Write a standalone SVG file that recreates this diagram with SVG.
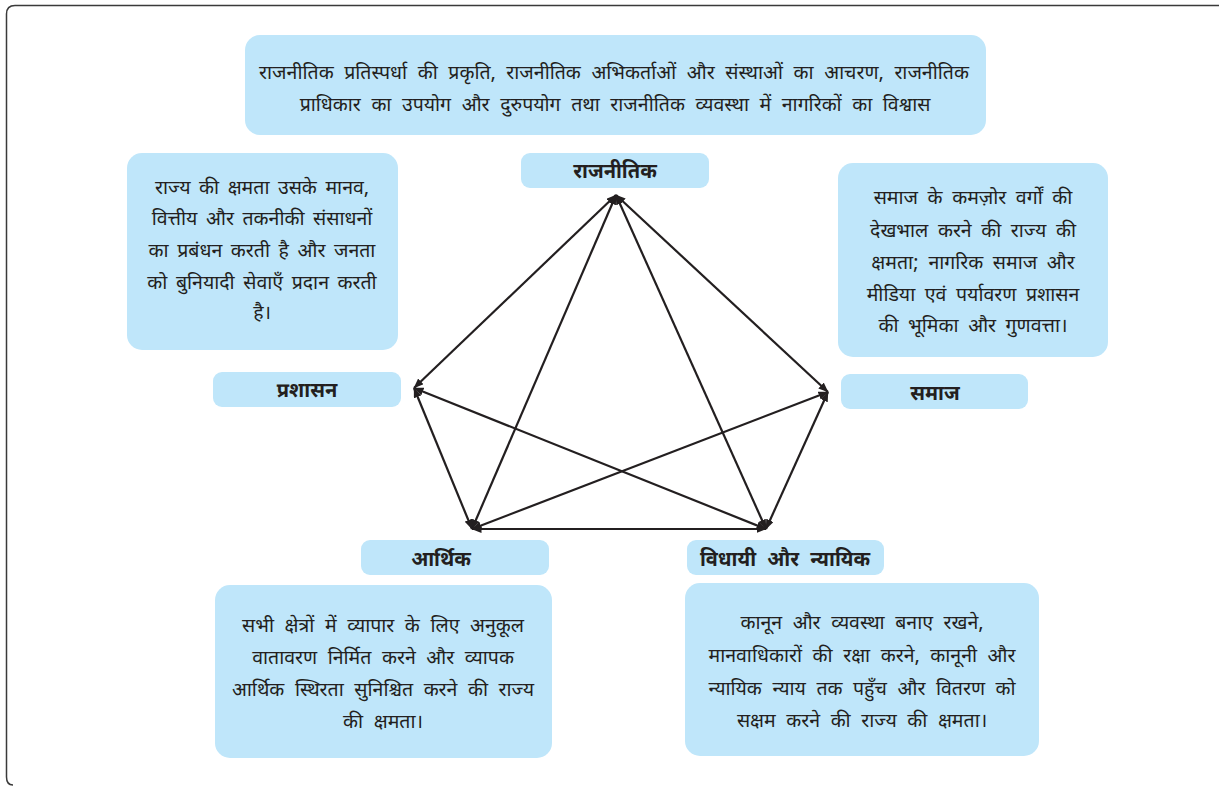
<svg xmlns="http://www.w3.org/2000/svg" width="1219" height="787" viewBox="0 0 1219 787">
<defs>
<style>
.box{fill:#bfe6fa;}
.t{font-family:"Noto Sans Devanagari","Lohit Devanagari","Noto Sans","Liberation Sans",sans-serif;font-size:19.5px;fill:#231f20;text-anchor:middle;word-spacing:5.5px;}
.tl{word-spacing:3.5px;}
.tr{word-spacing:4.5px;}
.lb{font-family:"Noto Sans Devanagari","Lohit Devanagari","Noto Sans","Liberation Sans",sans-serif;font-size:20px;font-weight:bold;fill:#231f20;text-anchor:middle;word-spacing:6px;}
.edge{stroke:#231f20;stroke-width:2.2;fill:none;marker-start:url(#ah);marker-end:url(#ah);}
</style>
<marker id="ah" viewBox="0 0 10 8" refX="9.5" refY="4" markerWidth="10" markerHeight="8" orient="auto-start-reverse" markerUnits="userSpaceOnUse">
<path d="M0,0 L10,4 L0,8 z" fill="#231f20"/>
</marker>
</defs>
<rect width="1219" height="787" fill="#ffffff"/>
<path id="frame" d="M1219,5.5 H15 Q6.5,5.5 6.5,14 V777 Q6.5,785 13,785" fill="none" stroke="#3a3a3a" stroke-width="1.5"/>

<g id="connectors">
<line class="edge" x1="616" y1="195" x2="414" y2="388"/>
<line class="edge" x1="616" y1="195" x2="828" y2="392"/>
<line class="edge" x1="616" y1="195" x2="472" y2="529"/>
<line class="edge" x1="616" y1="195" x2="766" y2="529"/>
<line class="edge" x1="414" y1="388" x2="472" y2="529"/>
<line class="edge" x1="414" y1="388" x2="766" y2="529"/>
<line class="edge" x1="828" y1="392" x2="766" y2="529"/>
<line class="edge" x1="828" y1="392" x2="472" y2="529"/>
<line class="edge" x1="472" y1="529" x2="766" y2="529"/>
</g>

<g id="top-desc">
<rect class="box" x="245" y="35" width="741" height="100" rx="15"/>
<text class="t" x="614" y="79">राजनीतिक प्रतिस्पर्धा की प्रकृति, राजनीतिक अभिकर्ताओं और संस्थाओं का आचरण, राजनीतिक</text>
<text class="t" x="615" y="111">प्राधिकार का उपयोग और दुरुपयोग तथा राजनीतिक व्यवस्था में नागरिकों का विश्वास</text>
</g>

<g id="node-rajnitik">
<rect class="box" x="521" y="153" width="188" height="35" rx="9"/>
<text class="lb" x="615" y="178">राजनीतिक</text>
</g>

<g id="left-desc">
<rect class="box" x="127" y="153" width="271" height="197" rx="15"/>
<text class="t tl" x="262" y="194">राज्य की क्षमता उसके मानव,</text>
<text class="t tl" x="262" y="225">वित्तीय और तकनीकी संसाधनों</text>
<text class="t tl" x="262" y="257">का प्रबंधन करती है और जनता</text>
<text class="t tl" x="262" y="289">को बुनियादी सेवाएँ प्रदान करती</text>
<text class="t tl" x="262" y="319">है।</text>
</g>

<g id="right-desc">
<rect class="box" x="838" y="163" width="270" height="194" rx="15"/>
<text class="t tr" x="973" y="204">समाज के कमज़ोर वर्गों की</text>
<text class="t tr" x="973" y="237">देखभाल करने की राज्य की</text>
<text class="t tr" x="973" y="269">क्षमता; नागरिक समाज और</text>
<text class="t tr" x="973" y="301">मीडिया एवं पर्यावरण प्रशासन</text>
<text class="t tr" x="973" y="332">की भूमिका और गुणवत्ता।</text>
</g>

<g id="node-prashasan">
<rect class="box" x="213" y="372" width="188" height="35" rx="9"/>
<text class="lb" x="307" y="397">प्रशासन</text>
</g>

<g id="node-samaj">
<rect class="box" x="841" y="374" width="187" height="35" rx="9"/>
<text class="lb" x="935" y="400">समाज</text>
</g>

<g id="node-arthik">
<rect class="box" x="361" y="540" width="188" height="35" rx="9"/>
<text class="lb" x="441" y="566">आर्थिक</text>
</g>

<g id="node-vidhayi">
<rect class="box" x="687" y="540" width="197" height="35" rx="9"/>
<text class="lb" x="785" y="566">विधायी और न्यायिक</text>
</g>

<g id="bottom-left-desc">
<rect class="box" x="215" y="585" width="337" height="173" rx="15"/>
<text class="t" x="383" y="632">सभी क्षेत्रों में व्यापार के लिए अनुकूल</text>
<text class="t" x="383" y="664">वातावरण निर्मित करने और व्यापक</text>
<text class="t" x="383" y="696">आर्थिक स्थिरता सुनिश्चित करने की राज्य</text>
<text class="t" x="383" y="728">की क्षमता।</text>
</g>

<g id="bottom-right-desc">
<rect class="box" x="685" y="583" width="354" height="173" rx="15"/>
<text class="t" x="862" y="629">कानून और व्यवस्था बनाए रखने,</text>
<text class="t" x="862" y="662">मानवाधिकारों की रक्षा करने, कानूनी और</text>
<text class="t" x="862" y="695">न्यायिक न्याय तक पहुँच और वितरण को</text>
<text class="t" x="862" y="727">सक्षम करने की राज्य की क्षमता।</text>
</g>
</svg>
